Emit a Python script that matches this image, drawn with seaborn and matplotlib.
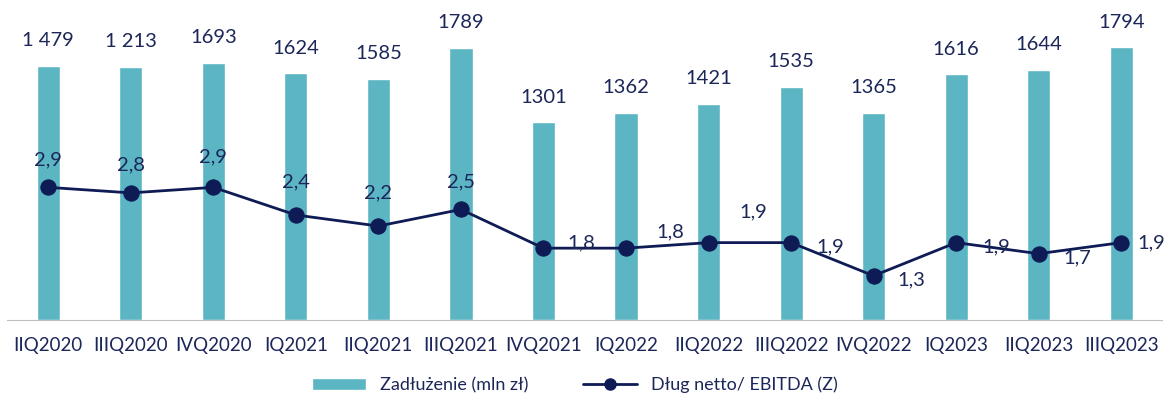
import numpy as np
import pandas as pd
import matplotlib.pyplot as plt
import seaborn as sns
from matplotlib.patches import Patch
from matplotlib.lines import Line2D

sns.set_style('white')
plt.rcParams['font.family'] = ['Lato', 'DejaVu Sans']

quarters = ['IIQ2020', 'IIIQ2020', 'IVQ2020', 'IQ2021', 'IIQ2021', 'IIIQ2021', 'IVQ2021',
            'IQ2022', 'IIQ2022', 'IIIQ2022', 'IVQ2022', 'IQ2023', 'IIQ2023', 'IIIQ2023']
# bar heights as drawn (first two bars are drawn taller than their labels say)
debt = [1671, 1664, 1693, 1624, 1585, 1789, 1301, 1362, 1421, 1535, 1365, 1616, 1644, 1794]
debt_labels = ['1 479', '1 213', '1693', '1624', '1585', '1789', '1301', '1362', '1421',
               '1535', '1365', '1616', '1644', '1794']
ratio = [2.9, 2.8, 2.9, 2.4, 2.2, 2.5, 1.8, 1.8, 1.9, 1.9, 1.3, 1.9, 1.7, 1.9]
# label offsets (points) for ratio labels
ratio_off = [(0, 20), (0, 20), (0, 22), (0, 24), (0, 24), (0, 20), (27, 4), (32, 12),
             (32, 22), (28, -3), (27, -3), (29, -3), (28, -3), (22, 0)]

bar_col = '#5BB5C3'
line_col = '#0E1B55'
txt_col = '#1B2659'

df = pd.DataFrame({'q': quarters, 'debt': debt, 'ratio': ratio})

fig = plt.figure(figsize=(11.73, 4.01), dpi=100)
ax = fig.add_axes([0.006, 0.202, 0.985, 0.758])
sns.barplot(data=df, x='q', y='debt', color=bar_col, width=0.28, saturation=1, ax=ax)
ax.set_ylim(0, 2000)
ax.set_xlim(-0.5, 13.5)
ax.set_xlabel('')
ax.set_ylabel('')
ax.set_yticks([])
for s in ['top', 'right', 'left']:
    ax.spines[s].set_visible(False)
ax.spines['bottom'].set_color('#BFBFBF')
ax.tick_params(axis='x', length=0, labelsize=13.5, labelcolor=txt_col, pad=12)

for i, (v, lab) in enumerate(zip(debt, debt_labels)):
    ax.annotate(lab, (i, v), xytext=(0, 12), textcoords='offset points',
                ha='center', va='bottom', fontsize=14.5, color=txt_col)

ax2 = ax.twinx()
sns.lineplot(x=np.arange(len(ratio)), y=ratio, color=line_col, lw=2, marker='o',
             markersize=11, markeredgecolor=line_col, ax=ax2)
ax2.set_ylim(0.5, 6)
ax2.set_yticks([])
for s in ['top', 'right', 'left', 'bottom']:
    ax2.spines[s].set_visible(False)
for i, v in enumerate(ratio):
    ax2.annotate(f'{v:.1f}'.replace('.', ','), (i, v), xytext=ratio_off[i],
                 textcoords='offset points', ha='center', va='center',
                 fontsize=14.5, color=txt_col)

handles = [Patch(facecolor=bar_col, label='Zadłużenie (mln zł)'),
           Line2D([0], [0], color=line_col, lw=2, marker='o', markersize=8,
                  label='Dług netto/ EBITDA (Z)')]
fig.legend(handles=handles, loc='center', bbox_to_anchor=(0.49, 0.04), ncol=2,
           frameon=False, fontsize=13, labelcolor=txt_col, handlelength=3,
           columnspacing=3)

fig.savefig('out.png', dpi=100)
